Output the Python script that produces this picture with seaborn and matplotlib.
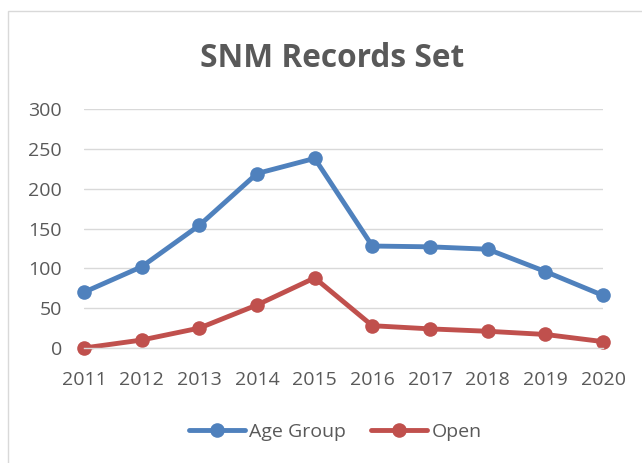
import matplotlib
matplotlib.use("Agg")
import matplotlib.pyplot as plt
import seaborn as sns
import pandas as pd
from matplotlib.patches import Rectangle

years = [2011, 2012, 2013, 2014, 2015, 2016, 2017, 2018, 2019, 2020]
age_group = [70, 102, 154, 219, 238, 128, 127, 124, 96, 66]
open_vals = [0, 10, 25, 54, 88, 28, 24, 21, 17, 8]
series_names = ["Age Group", "Open"]
yticks = [0, 50, 100, 150, 200, 250, 300]

df = pd.DataFrame({
    "Year": years * 2,
    "Records": age_group + open_vals,
    "Series": [series_names[0]] * len(years) + [series_names[1]] * len(years),
})

sns.set_theme(style="white")
plt.rcParams['font.family'] = ['Open Sans', 'DejaVu Sans']

grey = "#595959"
fig = plt.figure(figsize=(6.42, 4.63), dpi=100)
fig.patches.append(Rectangle((8 / 642, -0.1), 1.2, (463 - 11) / 463 + 0.1,
                             transform=fig.transFigure, fill=False,
                             edgecolor="#D9D9D9", linewidth=1.0))
ax = fig.add_axes([84 / 642, (463 - 348) / 463, (603 - 84) / 642, (348 - 109) / 463])

sns.lineplot(data=df, x="Year", y="Records", hue="Series",
             palette={"Age Group": "#4F81BD", "Open": "#C0504D"},
             marker="o", markersize=10.5, markeredgewidth=0, linewidth=3.5,
             ax=ax, legend=True, clip_on=False)

ax.set_xlim(years[0], years[-1])
ax.set_ylim(0, 300)
ax.set_yticks(yticks)
ax.set_xticks(years)
ax.set_xticklabels([str(y) for y in years])
ax.grid(axis="y", color="#D9D9D9", linewidth=1.0)
ax.set_axisbelow(True)
for s in ["top", "right", "left"]:
    ax.spines[s].set_visible(False)
ax.spines["bottom"].set_color("#D9D9D9")
ax.spines["bottom"].set_linewidth(1.0)
ax.tick_params(axis="both", length=0, labelsize=14, colors=grey)
ax.tick_params(axis="y", pad=16)
ax.tick_params(axis="x", pad=16.5)
ax.set_xlabel("")
ax.set_ylabel("")

handles, labels = ax.get_legend_handles_labels()
ax.get_legend().remove()
fig.legend(handles, labels, loc="center", bbox_to_anchor=(335 / 642, 1 - 432 / 463),
           ncol=2, frameon=False, fontsize=14, labelcolor=grey,
           handlelength=2.9, handletextpad=0.2, columnspacing=1.3,
           borderaxespad=0)

fig.text(332 / 642, 1 - 67 / 463, "SNM Records Set", ha="center", va="baseline",
         fontsize=22.8, fontweight="bold", color=grey)

fig.savefig("out.png", dpi=100)
